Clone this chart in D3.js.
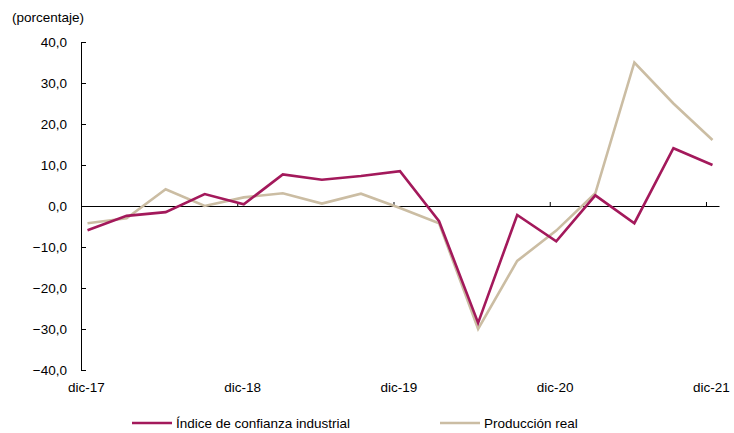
<!DOCTYPE html>
<html>
<head>
<meta charset="utf-8">
<script src="https://cdn.jsdelivr.net/npm/d3@7"></script>
<style>
  body { margin: 0; background: #fff; }
  text { font-family: "Liberation Sans", Arial, sans-serif; fill: #000; }
</style>
</head>
<body>
<div id="chart"></div>
<script>
// quarterly data, dic-17 .. dic-21
var quarters = ["dic-17","mar-18","jun-18","sep-18","dic-18","mar-19","jun-19","sep-19","dic-19",
                "mar-20","jun-20","sep-20","dic-20","mar-21","jun-21","sep-21","dic-21"];
var confianza = [-5.9, -2.4, -1.5, 2.9, 0.4, 7.7, 6.4, 7.3, 8.5, -3.7, -28.5, -2.2, -8.6, 2.6, -4.2, 14.1, 10.0];
var produccion = [-4.2, -3.0, 4.1, 0.0, 2.1, 3.1, 0.6, 3.0, -0.5, -4.2, -30.0, -13.4, -6.0, 3.1, 35.0, 25.0, 16.1];
var xLabels = ["dic-17","dic-18","dic-19","dic-20","dic-21"];
var yTicks = [-40, -30, -20, -10, 0, 10, 20, 30, 40];
var seriesNames = ["Índice de confianza industrial", "Producción real"];

const width = 734, height = 433;
const colors = ["#a3195b", "#cbbda3"];
const fs = "13.5px";

// monthly date axis: 49 months from dic-17 to dic-21, points sit mid-month
const nMonths = 49;
var x = d3.scaleLinear().domain([0, nMonths]).range([81, 719]);
var y = d3.scaleLinear().domain([-40, 40]).range([370, 42]);

const svg = d3.select("#chart").append("svg")
  .attr("width", width)
  .attr("height", height);

svg.append("text")
  .attr("x", 12).attr("y", 22)
  .style("font-size", fs)
  .text("(porcentaje)");

// y axis
var yAxis = d3.axisLeft(y)
  .tickValues(yTicks)
  .tickSize(-5)
  .tickPadding(14)
  .tickFormat(d => d3.format(".1f")(d).replace(".", ","));

var yg = svg.append("g")
  .attr("transform", "translate(" + x(0) + ",0)")
  .call(yAxis);
yg.select(".domain").attr("stroke", "#000");
yg.selectAll(".tick line").attr("stroke", "#000");
yg.selectAll("text").style("font-size", fs).attr("fill", "#000");

// x axis at zero
var xAxis = d3.axisBottom(x)
  .tickValues(d3.range(12, nMonths, 12))
  .tickSize(-4)
  .tickSizeOuter(0)
  .tickFormat("");

var xg = svg.append("g")
  .attr("transform", "translate(0," + y(0) + ")")
  .call(xAxis);
xg.select(".domain").attr("stroke", "#000");
xg.selectAll(".tick line").attr("stroke", "#000");

// category labels at bottom
svg.append("g").selectAll("text")
  .data(xLabels)
  .enter().append("text")
  .attr("x", (d, i) => x(i * 12 + 0.5) - 1)
  .attr("y", 392)
  .attr("text-anchor", "middle")
  .style("font-size", fs)
  .text(d => d);

var line = d3.line()
  .x((d, i) => x(i * 3 + 0.5))
  .y(d => y(d));

// draw production first, confidence on top
[produccion, confianza].forEach(function(s, k) {
  svg.append("path")
    .datum(s)
    .attr("fill", "none")
    .attr("stroke", k == 0 ? colors[1] : colors[0])
    .attr("stroke-width", 2.6)
    .attr("stroke-linejoin", "miter")
    .attr("d", line);
});

// legend
var legendX = [132, 440];
var lg = svg.append("g").selectAll("g")
  .data(seriesNames)
  .enter().append("g")
  .attr("transform", (d, i) => "translate(" + legendX[i] + ",423)");

lg.append("line")
  .attr("x1", 0).attr("x2", 40)
  .attr("stroke", (d, i) => colors[i])
  .attr("stroke-width", 2.6);

lg.append("text")
  .attr("x", 44).attr("y", 5)
  .style("font-size", fs)
  .text(d => d);
</script>
</body>
</html>
